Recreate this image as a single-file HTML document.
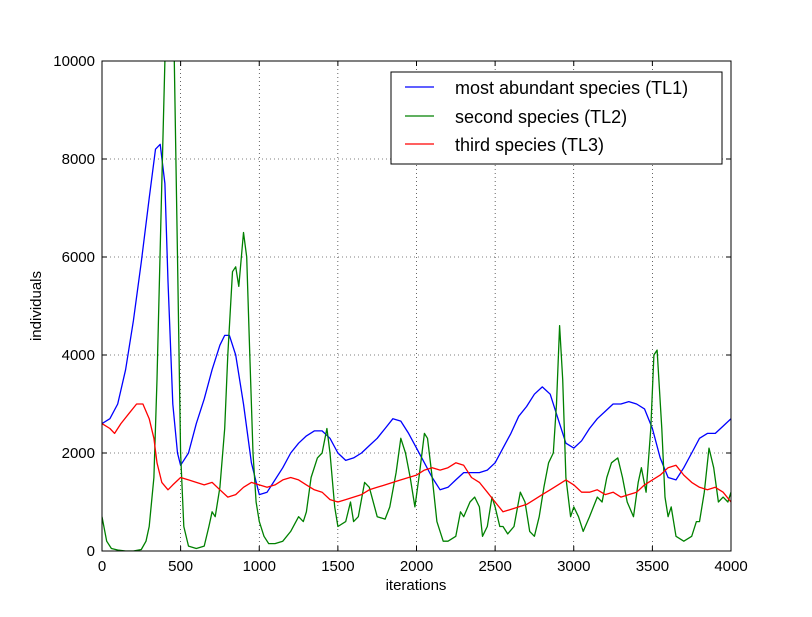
<!DOCTYPE html>
<html><head><meta charset="utf-8"><style>
body{margin:0;background:#fff;}
text{font-family:"Liberation Sans",sans-serif;fill:#000;}
</style></head><body>
<svg id="chart" width="812" height="612">
<rect width="812" height="612" fill="#fff"/>
<defs><clipPath id="clip"><rect x="102" y="61" width="629" height="490"/></clipPath></defs>
<g id="grid"></g>
<g id="series" clip-path="url(#clip)"></g>
<rect x="102" y="61" width="629" height="490" fill="none" stroke="#000" stroke-width="1"/>
<g id="ticks"></g>
<text x="416" y="590" font-size="15" text-anchor="middle">iterations</text>
<text x="41" y="306" font-size="15" text-anchor="middle" transform="rotate(-90 41 306)">individuals</text>
<g>
<rect x="391" y="72" width="331" height="92" fill="#fff" stroke="#000" stroke-width="1"/>
<line x1="405" y1="87" x2="434" y2="87" stroke="#0000ff" stroke-width="1.3"/>
<text x="455" y="94" font-size="18">most abundant species (TL1)</text>
<line x1="405" y1="116" x2="434" y2="116" stroke="#008000" stroke-width="1.3"/>
<text x="455" y="123" font-size="18">second species (TL2)</text>
<line x1="405" y1="144" x2="434" y2="144" stroke="#ff0000" stroke-width="1.3"/>
<text x="455" y="151" font-size="18">third species (TL3)</text>
</g>
</svg>
<script>
const xTicks=[0,500,1000,1500,2000,2500,3000,3500,4000];
const yTicks=[0,2000,4000,6000,8000,10000];
const tl1X=[0,50,100,150,200,250,300,340,370,400,420,450,480,500,550,600,650,700,750,780,810,850,900,950,1000,1050,1100,1150,1200,1250,1300,1350,1400,1450,1500,1550,1600,1650,1700,1750,1800,1850,1900,1950,2000,2050,2100,2150,2200,2250,2300,2350,2400,2450,2500,2550,2600,2650,2700,2750,2800,2850,2900,2950,3000,3050,3100,3150,3200,3250,3300,3350,3400,3450,3500,3550,3600,3650,3700,3750,3800,3850,3900,3950,4000];
const tl1Y=[2600,2700,3000,3700,4700,5900,7200,8200,8300,7500,5500,3000,2000,1750,2000,2600,3100,3700,4200,4400,4400,4000,3000,1800,1150,1200,1450,1700,2000,2200,2350,2450,2450,2300,2000,1850,1900,2000,2150,2300,2500,2700,2650,2400,2100,1800,1500,1250,1300,1450,1600,1600,1600,1650,1800,2100,2400,2750,2950,3200,3350,3200,2700,2200,2100,2250,2500,2700,2850,3000,3000,3050,3000,2900,2500,1900,1500,1450,1700,2000,2300,2400,2400,2550,2700];
const tl2X=[0,30,60,100,150,200,250,280,300,330,350,380,400,420,440,460,480,500,520,550,600,650,680,700,720,750,780,800,830,850,870,900,920,940,960,980,1000,1030,1060,1100,1150,1200,1250,1280,1300,1330,1370,1400,1430,1450,1480,1500,1550,1580,1600,1630,1670,1700,1750,1800,1830,1870,1900,1930,1960,1990,2020,2050,2070,2100,2130,2170,2200,2250,2280,2300,2340,2370,2400,2420,2450,2480,2500,2530,2550,2580,2620,2660,2690,2720,2750,2780,2810,2840,2870,2890,2910,2930,2950,2980,3000,3030,3060,3100,3150,3180,3210,3240,3280,3310,3340,3380,3410,3430,3460,3490,3510,3530,3560,3580,3600,3620,3650,3700,3750,3780,3800,3830,3860,3890,3920,3950,3980,4000];
const tl2Y=[700,200,50,20,0,0,30,200,500,1500,3500,7500,10000,12000,12500,10000,6000,2000,500,100,50,100,500,800,700,1300,2500,4000,5700,5800,5400,6500,6000,4000,2000,1000,600,300,150,150,200,400,700,600,800,1500,1900,2000,2500,2000,900,500,600,1000,600,700,1400,1300,700,650,900,1600,2300,2000,1500,900,1600,2400,2300,1500,600,200,200,300,800,700,1000,1100,900,300,500,1100,900,500,500,350,500,1200,1000,400,300,700,1300,1800,2000,3000,4600,3500,1500,700,900,700,400,700,1100,1000,1500,1800,1900,1500,1000,700,1400,1700,1200,2500,4000,4100,2500,1100,700,900,300,200,300,600,600,1200,2100,1700,1000,1100,1000,1200];
const tl3X=[0,50,80,120,170,220,260,300,330,350,380,420,450,500,550,600,650,700,750,800,850,900,950,1000,1050,1100,1150,1200,1250,1300,1350,1400,1450,1500,1550,1600,1650,1700,1750,1800,1850,1900,1950,2000,2050,2100,2150,2200,2250,2300,2350,2400,2450,2500,2550,2600,2650,2700,2750,2800,2850,2900,2950,3000,3050,3100,3150,3200,3250,3300,3350,3400,3450,3500,3550,3600,3650,3700,3750,3800,3850,3900,3950,4000];
const tl3Y=[2600,2500,2400,2600,2800,3000,3000,2700,2300,1800,1400,1250,1350,1500,1450,1400,1350,1400,1250,1100,1150,1300,1400,1350,1300,1350,1450,1500,1450,1350,1250,1200,1050,1000,1050,1100,1150,1250,1300,1350,1400,1450,1500,1550,1650,1700,1650,1700,1800,1750,1500,1400,1200,1000,800,850,900,950,1050,1150,1250,1350,1450,1350,1200,1200,1250,1150,1200,1100,1150,1200,1350,1450,1550,1700,1750,1550,1400,1300,1250,1300,1200,1000];

const NS='http://www.w3.org/2000/svg';
const X0=102,X1=731,Y0=551,Y1=61;
const sx=v=>X0+(v-0)/4000*(X1-X0);
const sy=v=>Y0-(v-0)/10000*(Y0-Y1);
function mk(tag,attrs,parent){const e=document.createElementNS(NS,tag);for(const k in attrs)e.setAttribute(k,attrs[k]);parent.appendChild(e);return e;}
const grid=document.getElementById('grid'),ticks=document.getElementById('ticks'),series=document.getElementById('series');
xTicks.forEach(t=>{
  const x=sx(t);
  const g=mk('line',{x1:x,y1:Y1,x2:x,y2:Y0,stroke:'#000','stroke-width':0.6,'stroke-dasharray':'1,3'},grid);
  
  
  mk('line',{x1:x,y1:Y0,x2:x,y2:Y0-5,stroke:'#000'},ticks);
  mk('line',{x1:x,y1:Y1,x2:x,y2:Y1+5,stroke:'#000'},ticks);
  const lb=mk('text',{x:x,y:Y0+20,'font-size':15,'text-anchor':'middle'},ticks);
  lb.textContent=t;
  
  
});
yTicks.forEach(t=>{
  const y=sy(t);
  const g=mk('line',{x1:X0,y1:y,x2:X1,y2:y,stroke:'#000','stroke-width':0.6,'stroke-dasharray':'1,3'},grid);
  
  
  mk('line',{x1:X0,y1:y,x2:X0+5,y2:y,stroke:'#000'},ticks);
  mk('line',{x1:X1,y1:y,x2:X1-5,y2:y,stroke:'#000'},ticks);
  const lb=mk('text',{x:X0-7,y:y+5,'font-size':15,'text-anchor':'end'},ticks);
  lb.textContent=t;
  
  
});
function line(xs,ys,color,name){
  const d=xs.map((v,i)=>(i?'L':'M')+sx(v).toFixed(1)+','+sy(ys[i]).toFixed(1)).join(' ');
  const p=mk('path',{d:d,fill:'none',stroke:color,'stroke-width':1.3,'stroke-linejoin':'round'},series);
  
  
}
line(tl1X,tl1Y,'#0000ff','series-tl1');
line(tl2X,tl2Y,'#008000','series-tl2');
line(tl3X,tl3Y,'#ff0000','series-tl3');
</script>
</body></html>
